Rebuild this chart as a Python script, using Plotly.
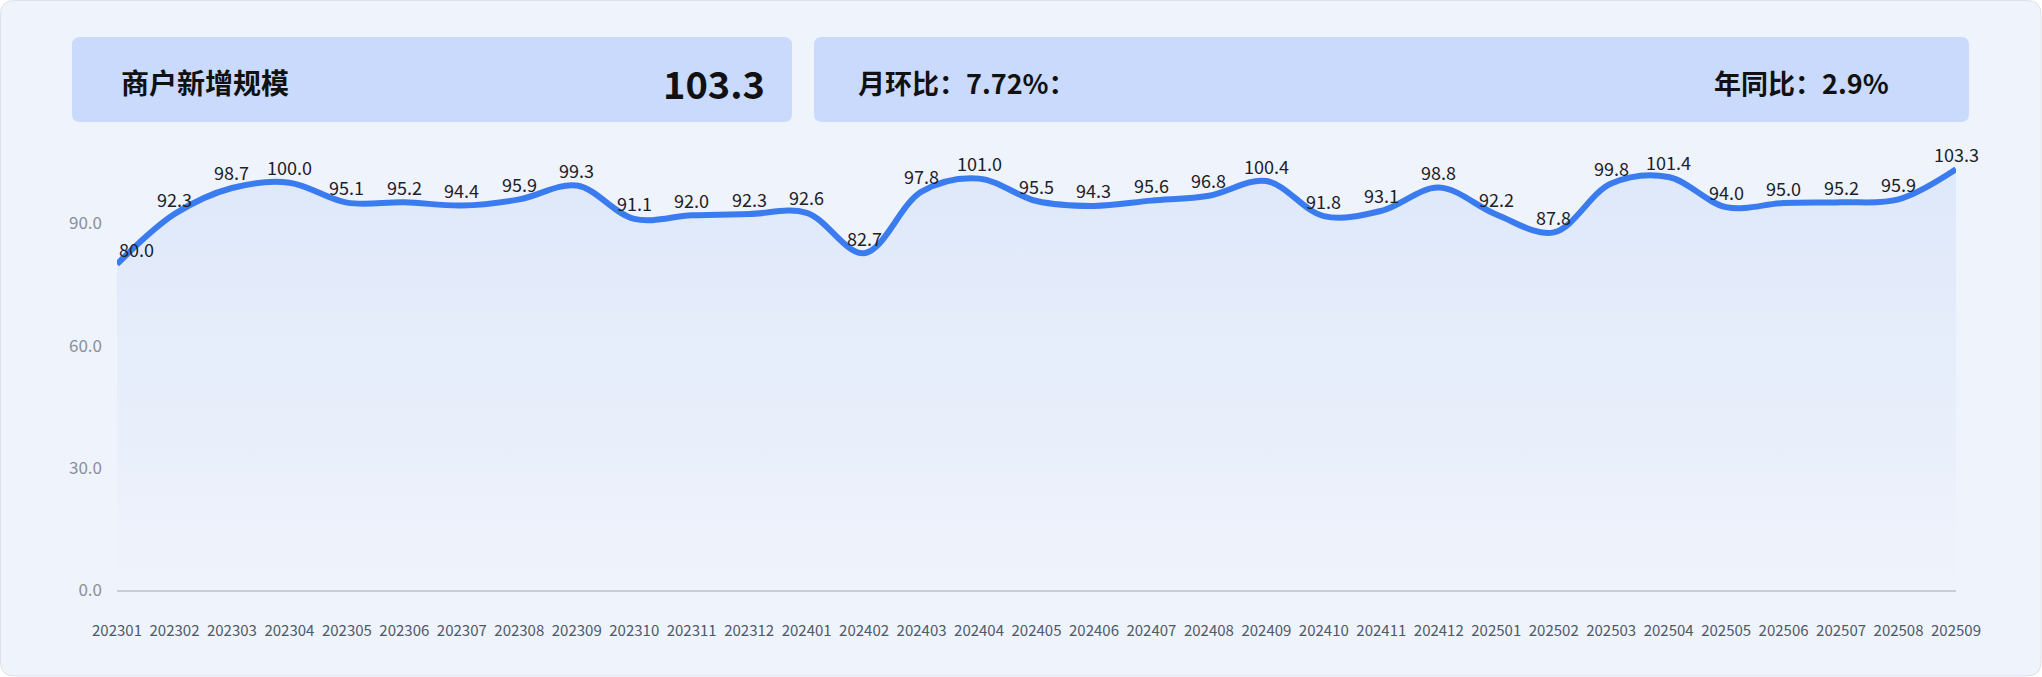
import plotly.graph_objects as go

# ---------------- data ----------------
months = ['202301', '202302', '202303', '202304', '202305', '202306', '202307', '202308',
          '202309', '202310', '202311', '202312', '202401', '202402', '202403', '202404',
          '202405', '202406', '202407', '202408', '202409', '202410', '202411', '202412',
          '202501', '202502', '202503', '202504', '202505', '202506', '202507', '202508',
          '202509']
values = [80.0, 92.3, 98.7, 100.0, 95.1, 95.2, 94.4, 95.9, 99.3, 91.1, 92.0, 92.3,
          92.6, 82.7, 97.8, 101.0, 95.5, 94.3, 95.6, 96.8, 100.4, 91.8, 93.1, 98.8,
          92.2, 87.8, 99.8, 101.4, 94.0, 95.0, 95.2, 95.9, 103.3]
title_text = '商户新增规模'
y_ticks = [0, 30, 60, 90]

latest = values[-1]
mom = (values[-1] / values[-2] - 1) * 100
yoy = (values[-1] / values[-13] - 1) * 100
latest_text = f'{latest:.1f}'
mom_text = f'月环比：{mom:.2f}%：'
yoy_text = f'年同比：{yoy:.1f}%'

# ---------------- layout geometry (pixels) ----------------
W, H = 2042, 677
PL, PR, PT, PB = 117, 1956, 140, 590
PX_PER_UNIT = 4.073
y_max = (PB - PT) / PX_PER_UNIT

FONT = 'Noto Sans CJK SC, Noto Sans, sans-serif'
BLUE = '#3A7CF0'


def xp(px):
    return (px - PL) / (PR - PL)


def yp(py):
    return (PB - py) / (PB - PT)


def rrect(x0, y0, x1, y1, r):
    pts = [
        ('M', [(x0 + r, y0)]), ('L', [(x1 - r, y0)]), ('Q', [(x1, y0), (x1, y0 + r)]),
        ('L', [(x1, y1 - r)]), ('Q', [(x1, y1), (x1 - r, y1)]), ('L', [(x0 + r, y1)]),
        ('Q', [(x0, y1), (x0, y1 - r)]), ('L', [(x0, y0 + r)]), ('Q', [(x0, y0), (x0 + r, y0)]),
    ]
    s = ''
    for cmd, ps in pts:
        s += cmd + ' ' + ' '.join(f'{xp(a):.6f},{yp(b):.6f}' for a, b in ps) + ' '
    return s + 'Z'


fig = go.Figure()

fig.add_trace(go.Scatter(
    x=months, y=values, mode='lines',
    line=dict(color=BLUE, width=6, shape='spline', smoothing=1.0),
    fill='tozeroy',
    fillgradient=dict(type='vertical', start=0, stop=max(values),
                      colorscale=[[0, 'rgba(58,124,240,0.0)'], [1, 'rgba(58,124,240,0.09)']]),
    hoverinfo='skip', showlegend=False, cliponaxis=False,
))

annotations = []
for i, v in enumerate(values):
    annotations.append(dict(
        x=i, y=v, xref='x', yref='y', text=f'{v:.1f}', showarrow=False,
        xanchor='left' if i == 0 else 'center', yanchor='middle', yshift=15.5,
        font=dict(family=FONT, size=18, color='#1D2129'),
    ))

HEAD = dict(family=FONT, color='#111111', weight=600)
# header texts
annotations += [
    dict(x=xp(119), y=yp(82), xref='paper', yref='paper', text=title_text,
         showarrow=False, xanchor='left', yanchor='middle', font=dict(HEAD, size=28)),
    dict(x=xp(767), y=yp(82), xref='paper', yref='paper', text=latest_text,
         showarrow=False, xanchor='right', yanchor='middle', font=dict(HEAD, size=38)),
    dict(x=xp(856), y=yp(83), xref='paper', yref='paper', text=mom_text,
         showarrow=False, xanchor='left', yanchor='middle', font=dict(HEAD, size=27)),
    dict(x=xp(1891), y=yp(83), xref='paper', yref='paper', text=yoy_text,
         showarrow=False, xanchor='right', yanchor='middle', font=dict(HEAD, size=27)),
]

shapes = [
    dict(type='path', xref='paper', yref='paper', layer='below',
         path=rrect(0.5, 0.5, 2041, 676, 14), fillcolor='#EFF3FB',
         line=dict(color='#DCE0E8', width=1)),
    dict(type='path', xref='paper', yref='paper', layer='below',
         path=rrect(72, 37, 792, 122, 8), fillcolor='#C9DAFD', line=dict(width=0)),
    dict(type='path', xref='paper', yref='paper', layer='below',
         path=rrect(814, 37, 1969, 122, 8), fillcolor='#C9DAFD', line=dict(width=0)),
]

fig.update_layout(
    width=W, height=H,
    margin=dict(l=PL, r=W - PR, t=PT, b=H - PB, pad=0, autoexpand=False),
    paper_bgcolor='white', plot_bgcolor='rgba(0,0,0,0)',
    font=dict(family=FONT),
    annotations=annotations, shapes=shapes,
    xaxis=dict(type='category', range=[0, len(months) - 1], showgrid=False, zeroline=False,
               showline=True, linecolor='#C9CDD4', linewidth=1.5, ticks='',
               tickfont=dict(family=FONT, size=15, color='#4E5969'), ticklabelstandoff=26,
               fixedrange=True),
    yaxis=dict(range=[0, y_max], tickvals=y_ticks, tickformat='.1f', showgrid=False,
               zeroline=False, showline=False, ticks='',
               tickfont=dict(family=FONT, size=17, color='#86909C'), ticklabelstandoff=14,
               fixedrange=True),
)

fig.write_html('out.html')
